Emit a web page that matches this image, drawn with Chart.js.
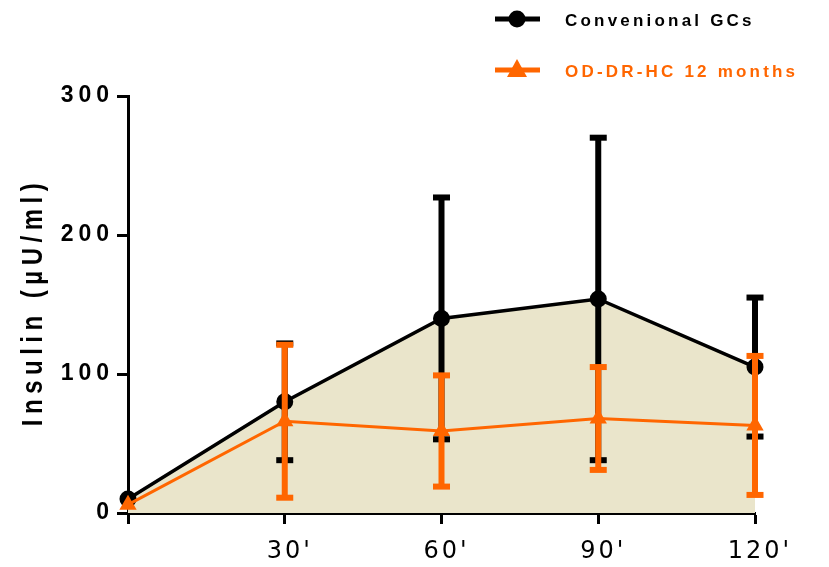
<!DOCTYPE html>
<html>
<head>
<meta charset="utf-8">
<script src="https://cdn.jsdelivr.net/npm/chart.js@4.4.1/dist/chart.umd.min.js"></script>
<style>
  html, body { margin: 0; padding: 0; background: #ffffff; }
  #wrap { width: 829px; height: 567px; }
</style>
</head>
<body>
<div id="wrap"><canvas id="c" width="829" height="567"></canvas></div>
<script>
// Sampling times (minutes) and their axis labels
const minutes = [0, 30, 60, 90, 120];
const timeLabels = ["", "30'", "60'", "90'", "120'"];

// Insulin (µU/ml): mean and SD per time point
const convMean = [10, 80, 140, 154, 105];
const convSD   = [0, 42, 87, 116, 50];
const odMean   = [6, 66, 59, 68, 63];
const odSD     = [0, 55, 40, 37, 50];

const seriesNames = ["Convenional GCs", "OD-DR-HC 12 months"];
const yTitle = "Insulin (µU/ml)";

const BLACK = '#000000';
const ORANGE = '#FF6600';
const AREA = '#EAE5CB';

const toPoints = (xs, ys) => xs.map((x, i) => ({ x: x, y: ys[i] }));

// Vertical SD bars with caps, drawn just before each dataset's line and markers
const errorBars = {
  id: 'errorBars',
  beforeDatasetDraw(chart, args) {
    const ds = chart.data.datasets[args.index];
    if (!ds.sd) return;
    const ctx = chart.ctx, xs = chart.scales.x, ys = chart.scales.y;
    const barW = 6, capW = 17, capH = 6;
    ctx.save();
    ctx.fillStyle = ds.borderColor;
    ds.data.forEach((p, i) => {
      const s = ds.sd[i];
      if (!s) return;
      const px = xs.getPixelForValue(p.x);
      const top = ys.getPixelForValue(p.y + s);
      const bot = ys.getPixelForValue(p.y - s);
      ctx.fillRect(px - barW / 2, top, barW, bot - top);
      ctx.fillRect(px - capW / 2, top - capH / 2, capW, capH);
      ctx.fillRect(px - capW / 2, bot - capH / 2, capW, capH);
    });
    ctx.restore();
  }
};

// Letter-spaced tick labels per axis
const spacedTicks = {
  id: 'spacedTicks',
  beforeDraw(chart) {
    const style = { x: { sp: '3px', dx: 5 }, y: { sp: '5px', dx: 2 } };
    Object.values(chart.scales).forEach(scale => {
      if (scale._spacedWrap) return;
      const orig = scale.drawLabels.bind(scale);
      const st = style[scale.id] || { sp: '0px', dx: 0 };
      scale.drawLabels = function (area) {
        const c = this.ctx;
        const prev = c.letterSpacing;
        c.save();
        c.translate(st.dx, 0);
        c.letterSpacing = st.sp;
        orig(area);
        c.restore();
        c.letterSpacing = prev;
      };
      scale._spacedWrap = true;
    });
  }
};

// Y-axis title and legend at top right
const decorations = {
  id: 'decorations',
  afterDraw(chart) {
    const ctx = chart.ctx;

    // y-axis title, rotated
    ctx.save();
    ctx.translate(34, 305);
    ctx.rotate(-Math.PI / 2);
    ctx.scale(1, 1.25);
    ctx.font = 'bold 24px "Liberation Sans", Arial, sans-serif';
    ctx.letterSpacing = '5.5px';
    ctx.fillStyle = BLACK;
    ctx.textAlign = 'center';
    ctx.textBaseline = 'middle';
    ctx.fillText(yTitle, 3, 0);
    ctx.restore();

    // legend
    const items = [
      { name: seriesNames[0], color: BLACK, style: 'circle', y: 19, ty: 21 },
      { name: seriesNames[1], color: ORANGE, style: 'triangle', y: 70, ty: 72 }
    ];
    items.forEach(it => {
      ctx.save();
      ctx.fillStyle = it.color;
      ctx.fillRect(495, it.y - 2.5, 45, 5);
      ctx.beginPath();
      if (it.style === 'circle') {
        ctx.arc(517, it.y, 8.5, 0, Math.PI * 2);
      } else {
        ctx.moveTo(517, it.y - 11);
        ctx.lineTo(527, it.y + 7);
        ctx.lineTo(507, it.y + 7);
        ctx.closePath();
      }
      ctx.fill();
      ctx.font = 'bold 17px "Liberation Sans", Arial, sans-serif';
      ctx.letterSpacing = '3.2px';
      ctx.textAlign = 'left';
      ctx.textBaseline = 'middle';
      ctx.fillText(it.name, 565, it.ty);
      ctx.restore();
    });
  }
};

new Chart(document.getElementById('c'), {
  type: 'line',
  data: {
    datasets: [
      {
        label: seriesNames[0],
        data: toPoints(minutes, convMean),
        sd: convSD,
        borderColor: BLACK,
        backgroundColor: AREA,
        borderWidth: 3.5,
        fill: 'origin',
        tension: 0,
        pointStyle: 'circle',
        pointRadius: 8.5,
        pointHoverRadius: 8.5,
        pointBackgroundColor: BLACK,
        pointBorderColor: BLACK,
        pointBorderWidth: 0,
        clip: false,
        order: 2
      },
      {
        label: seriesNames[1],
        data: toPoints(minutes, odMean),
        sd: odSD,
        borderColor: ORANGE,
        backgroundColor: ORANGE,
        borderWidth: 3,
        fill: false,
        tension: 0,
        pointStyle: 'triangle',
        pointRadius: 10,
        pointHoverRadius: 10,
        pointBackgroundColor: ORANGE,
        pointBorderColor: ORANGE,
        pointBorderWidth: 0,
        clip: false,
        order: 1
      }
    ]
  },
  options: {
    responsive: false,
    animation: false,
    devicePixelRatio: 1,
    layout: { padding: { left: 0, right: 74, top: 96, bottom: 0 } },
    plugins: {
      legend: { display: false },
      tooltip: { enabled: false },
      title: { display: false }
    },
    scales: {
      x: {
        type: 'linear',
        min: 0,
        max: 120,
        afterFit: s => { s.height = 54; },
        afterBuildTicks: s => { s.ticks = minutes.map(v => ({ value: v })); },
        ticks: {
          autoSkip: false,
          maxRotation: 0,
          padding: 13,
          color: BLACK,
          font: { family: '"DejaVu Sans", sans-serif', size: 24 },
          callback: v => timeLabels[minutes.indexOf(v)] ?? ''
        },
        grid: {
          display: true,
          drawOnChartArea: false,
          drawTicks: true,
          tickLength: 11,
          tickWidth: 3,
          tickColor: BLACK
        },
        border: { display: true, color: BLACK, width: 3 }
      },
      y: {
        type: 'linear',
        min: 0,
        max: 300,
        afterFit: s => { s.width = 128; },
        ticks: {
          stepSize: 100,
          padding: 5,
          color: BLACK,
          font: { family: '"Liberation Sans", Arial, sans-serif', size: 23, weight: 'bold' }
        },
        grid: {
          display: true,
          drawOnChartArea: false,
          drawTicks: true,
          tickLength: 11,
          tickWidth: 3,
          tickColor: BLACK
        },
        border: { display: true, color: BLACK, width: 3 }
      }
    }
  },
  plugins: [spacedTicks, errorBars, decorations]
});
</script>
</body>
</html>
